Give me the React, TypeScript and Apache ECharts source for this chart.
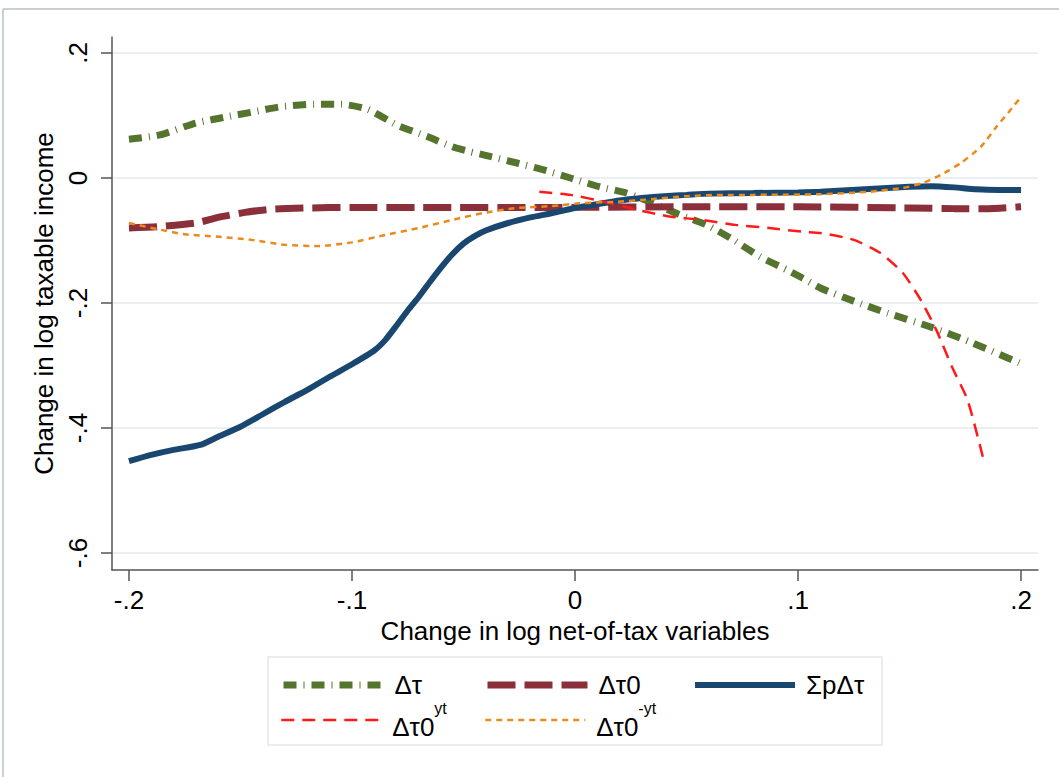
import React, { useEffect, useRef } from "react";
import * as echarts from "echarts";

// Δτ (green dash-dot)
const xDT = [-0.2, -0.186, -0.17, -0.156, -0.144, -0.132, -0.117, -0.105, -0.093, -0.08, -0.066, -0.055, -0.047, -0.041, -0.026, -0.014, -0.002, 0.011, 0.023, 0.035, 0.047, 0.059, 0.071, 0.083, 0.095, 0.102, 0.11, 0.125, 0.14, 0.16, 0.177, 0.2];
const yDT = [0.062, 0.069, 0.088, 0.098, 0.106, 0.114, 0.118, 0.118, 0.11, 0.085, 0.066, 0.05, 0.042, 0.037, 0.024, 0.013, 0.0, -0.014, -0.024, -0.04, -0.059, -0.075, -0.099, -0.126, -0.147, -0.16, -0.176, -0.197, -0.216, -0.239, -0.262, -0.297];

// Δτ0 (maroon long dash)
const xDT0 = [-0.2, -0.187, -0.17, -0.16, -0.148, -0.136, -0.12, -0.1, -0.07, 0, 0.05, 0.1, 0.15, 0.17, 0.185, 0.2];
const yDT0 = [-0.08, -0.078, -0.072, -0.063, -0.055, -0.05, -0.048, -0.047, -0.047, -0.047, -0.046, -0.046, -0.048, -0.049, -0.049, -0.046];

// ΣpΔτ (navy solid)
const xSUM = [-0.2, -0.19, -0.18, -0.168, -0.16, -0.15, -0.14, -0.13, -0.12, -0.11, -0.1, -0.09, -0.085, -0.08, -0.075, -0.07, -0.065, -0.06, -0.055, -0.05, -0.045, -0.04, -0.03, -0.02, -0.01, 0, 0.01, 0.02, 0.03, 0.04, 0.05, 0.06, 0.08, 0.1, 0.11, 0.13, 0.15, 0.16, 0.17, 0.18, 0.19, 0.2];
const ySUM = [-0.453, -0.443, -0.435, -0.427, -0.414, -0.398, -0.378, -0.358, -0.339, -0.318, -0.298, -0.276, -0.259, -0.236, -0.212, -0.19, -0.166, -0.143, -0.122, -0.105, -0.093, -0.084, -0.072, -0.063, -0.056, -0.048, -0.042, -0.036, -0.032, -0.029, -0.027, -0.025, -0.024, -0.023, -0.022, -0.018, -0.014, -0.013, -0.015, -0.018, -0.019, -0.019];

// Δτ0^yt (red dash)
const xYT = [-0.016, -0.002, 0.013, 0.028, 0.043, 0.057, 0.072, 0.087, 0.102, 0.11, 0.125, 0.137, 0.147, 0.155, 0.162, 0.169, 0.176, 0.183];
const yYT = [-0.022, -0.027, -0.038, -0.051, -0.062, -0.067, -0.075, -0.08, -0.086, -0.088, -0.099, -0.12, -0.152, -0.195, -0.243, -0.302, -0.355, -0.448];

// Δτ0^-yt (orange short dash)
const xMYT = [-0.2, -0.187, -0.175, -0.16, -0.145, -0.13, -0.115, -0.1, -0.085, -0.07, -0.055, -0.041, -0.026, -0.011, 0.004, 0.019, 0.034, 0.05, 0.065, 0.08, 0.11, 0.132, 0.147, 0.156, 0.164, 0.173, 0.182, 0.189, 0.196, 0.2];
const yMYT = [-0.072, -0.082, -0.09, -0.094, -0.099, -0.107, -0.109, -0.103, -0.091, -0.08, -0.067, -0.056, -0.048, -0.045, -0.04, -0.038, -0.034, -0.029, -0.027, -0.027, -0.026, -0.022, -0.016, -0.008, 0.005, 0.024, 0.05, 0.082, 0.112, 0.13];

const xTicks = [-0.2, -0.1, 0, 0.1, 0.2];
const yTicks = [-0.6, -0.4, -0.2, 0, 0.2];

const names = ["Δτ", "Δτ0", "ΣpΔτ", "Δτ0 yt", "Δτ0 -yt"];

const FONT = "'Liberation Sans', Arial, sans-serif";

const fmt = (v: number) => {
  if (Math.abs(v) < 1e-9) return "0";
  const s = String(Math.round(Math.abs(v) * 10) / 10).replace(/^0/, "");
  return (v < 0 ? "-" : "") + s;
};

const pairs = (xs: number[], ys: number[]) => xs.map((x, i) => [x, ys[i]]);

export default function App() {
  const ref = useRef<HTMLDivElement>(null);
  useEffect(() => {
    if (!ref.current) return;
    const chart = echarts.init(ref.current, undefined, { renderer: "svg" });
    const axisColor = "#555";
    const legendText = {
      fontSize: 26,
      fontFamily: FONT,
      color: "#000",
      padding: [0, 0, 0, 6],
      rich: {
        b: { fontSize: 26, fontFamily: FONT, color: "#000", verticalAlign: "bottom", lineHeight: 40 },
        s: { fontSize: 16, fontFamily: FONT, color: "#000", verticalAlign: "top", lineHeight: 40 },
      },
    };
    const legendFormatter = (n: string) => {
      const parts = n.split(" ");
      if (parts.length > 1) return `{b|${parts[0]}}{s|${parts[1]}}`;
      return n;
    };
    const mkLegend = (name: string, left: number, top: number) => ({
      data: [name],
      left,
      top,
      padding: 0,
      itemWidth: 100,
      itemHeight: 14,
      itemGap: 14,
      formatter: legendFormatter,
      textStyle: legendText,
      itemStyle: { opacity: 0 },
      lineStyle: { width: "inherit", type: "inherit", color: "inherit" },
    });
    const common = { type: "line", symbol: "none", showSymbol: false, smooth: 0.2, z: 2 };
    chart.setOption({
      animation: false,
      backgroundColor: "#fff",
      textStyle: { fontFamily: FONT },
      grid: { left: 112, top: 37, right: 21, bottom: 207, containLabel: false },
      xAxis: {
        type: "value",
        min: -0.2076,
        max: 0.2076,
        name: "Change in log net-of-tax variables",
        nameLocation: "middle",
        nameGap: 40,
        nameTextStyle: { fontSize: 26, color: "#000", fontFamily: FONT },
        axisLine: { show: true, onZero: false, lineStyle: { color: axisColor, width: 1.5 } },
        axisTick: { show: true, length: 11, lineStyle: { color: axisColor, width: 1.5 }, customValues: xTicks },
        axisLabel: { fontSize: 26, color: "#000", margin: 17, customValues: xTicks, formatter: fmt, fontFamily: FONT },
        splitLine: { show: false },
      },
      yAxis: {
        type: "value",
        min: -0.6272,
        max: 0.2256,
        name: "Change in log taxable income",
        nameLocation: "middle",
        nameGap: 40,
        nameTextStyle: { fontSize: 26, color: "#000", fontFamily: FONT },
        axisLine: { show: true, onZero: false, lineStyle: { color: axisColor, width: 1.5 } },
        axisTick: { show: true, length: 11, lineStyle: { color: axisColor, width: 1.5 }, customValues: yTicks },
        axisLabel: { fontSize: 26, color: "#000", margin: 21, rotate: 90, customValues: yTicks, formatter: fmt, fontFamily: FONT },
        splitLine: { show: true, lineStyle: { color: "#e3ebee", width: 1.5 } },
      },
      legend: [
        mkLegend(names[0], 280, 672),
        mkLegend(names[1], 484, 672),
        mkLegend(names[2], 692, 672),
        mkLegend(names[3], 280, 700),
        mkLegend(names[4], 484, 700),
      ],
      graphic: [
        { type: "line", shape: { x1: 3, y1: 9, x2: 1059, y2: 9 }, style: { stroke: "#b9c3c1", lineWidth: 1.5 } },
        { type: "line", shape: { x1: 3, y1: 9, x2: 3, y2: 777 }, style: { stroke: "#b9c3c1", lineWidth: 1.5 } },
        { type: "rect", shape: { x: 268, y: 657, width: 614, height: 88 }, style: { fill: "none", stroke: "#e3e9eb", lineWidth: 1.5 } },
      ],
      series: [
        { ...common, name: names[0], data: pairs(xDT, yDT), lineStyle: { color: "#55752f", width: 7, type: [13, 7, 1, 7] }, itemStyle: { color: "#55752f" } },
        { ...common, name: names[1], data: pairs(xDT0, yDT0), lineStyle: { color: "#8b2f3b", width: 7, type: [28, 9] }, itemStyle: { color: "#8b2f3b" } },
        { ...common, name: names[2], data: pairs(xSUM, ySUM), lineStyle: { color: "#1a476f", width: 6, type: "solid" }, itemStyle: { color: "#1a476f" } },
        { ...common, name: names[3], data: pairs(xYT, yYT), lineStyle: { color: "#ff1a1a", width: 2.5, type: [13, 8] }, itemStyle: { color: "#ff1a1a" } },
        { ...common, name: names[4], data: pairs(xMYT, yMYT), lineStyle: { color: "#ea8a1c", width: 2.5, type: [6, 5] }, itemStyle: { color: "#ea8a1c" } },
      ],
    });
    return () => chart.dispose();
  }, []);
  return <div ref={ref} style={{ position: "fixed", left: 0, top: 0, width: 1059, height: 777 }} />;
}
